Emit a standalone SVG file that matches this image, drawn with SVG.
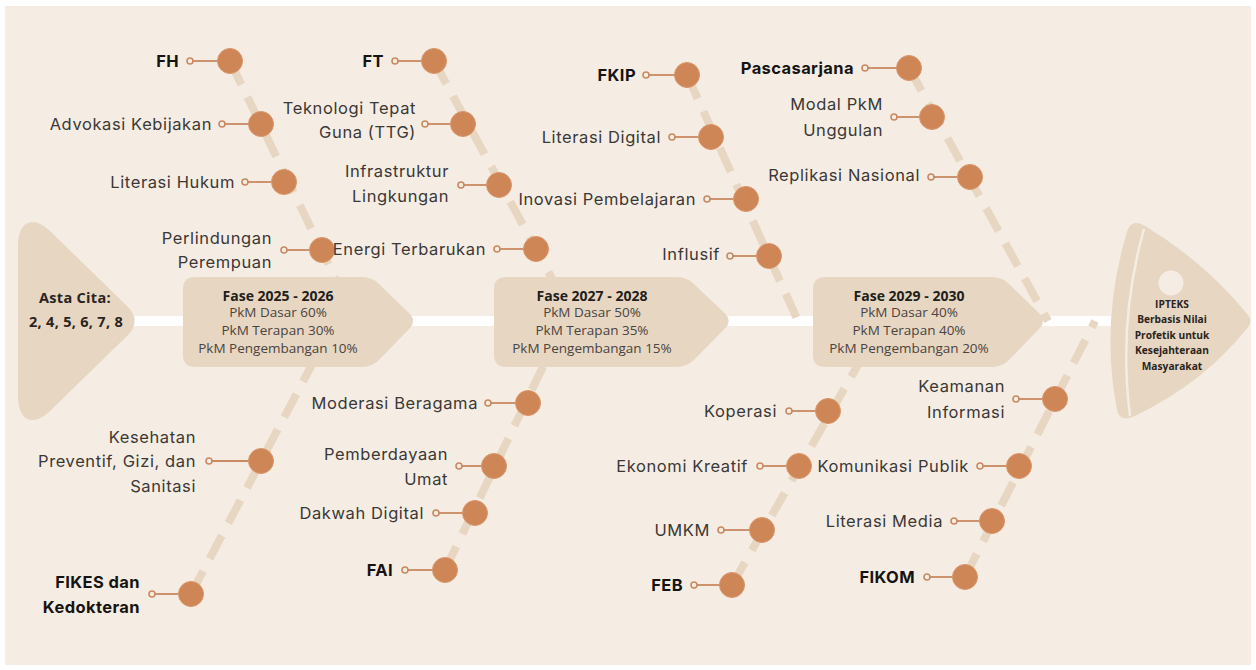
<svg xmlns="http://www.w3.org/2000/svg" width="1256" height="670" viewBox="0 0 1256 670">
<style>
.lbl{font-family:Inter,"Noto Sans",sans-serif;font-size:16.5px;letter-spacing:0.6px;fill:#3b3836;text-anchor:end}
.b{font-weight:700;fill:#161412;letter-spacing:0.4px}
.ph{font-family:"Open Sans","Noto Sans",sans-serif;font-size:13.5px;fill:#4a4440;text-anchor:middle}
.phb{font-weight:700;font-size:14px;fill:#221e1b}
.hd{font-family:"Open Sans","Noto Sans",sans-serif;font-size:10.2px;font-weight:700;fill:#2a2420;text-anchor:middle}
.tl{font-family:"Open Sans","Noto Sans",sans-serif;font-size:14.5px;letter-spacing:0.3px;font-weight:700;fill:#2a2420;text-anchor:middle}
.big{fill:#cf8657;stroke:#d9966a;stroke-width:1}
.sm{fill:#f5ede3;stroke:#c98a62;stroke-width:1.6}
.ln{stroke:#c98a62;stroke-width:1.8}
.bone{stroke:#e7d6c2;stroke-width:8;stroke-dasharray:26 14;fill:none}
.tan{fill:#e7d6c2}
</style>
<defs>
<path id="phase" d="M195 277 L362 277 Q372 277 379 284 L410 314 Q416 321 410 328 L379 360 Q372 367 362 367 L195 367 Q183 367 183 355 L183 289 Q183 277 195 277 Z"/>
</defs>
<rect x="0" y="0" width="1256" height="670" fill="#ffffff"/>
<rect x="5" y="6" width="1246" height="659" fill="#f5ede3"/>

<g id="connectors">
<line x1="130" y1="321" x2="1118" y2="321" stroke="#ffffff" stroke-width="10"/>
<line class="bone" x1="230" y1="61" x2="356" y2="321"/>
<line class="bone" x1="434" y1="61" x2="575" y2="321"/>
<line class="bone" x1="687" y1="75" x2="798" y2="321"/>
<line class="bone" x1="909" y1="68" x2="1048" y2="321"/>
<line class="bone" x1="191" y1="594" x2="335" y2="321"/>
<line class="bone" x1="445" y1="570" x2="565" y2="321"/>
<line class="bone" x1="732" y1="585" x2="883" y2="321"/>
<line class="bone" x1="965" y1="577" x2="1095" y2="321"/>
</g>

<g id="tail">
<path class="tan" d="M18 246 C18 222 32 214 50 231 L127 306 C137 315 137 327 127 336 L50 411 C32 428 18 420 18 396 Z"/>
<text class="tl" x="75" y="303">Asta Cita:</text>
<text class="tl" x="76" y="327">2, 4, 5, 6, 7, 8</text>
</g>

<g id="phase1">
<use href="#phase" class="tan"/>
<text class="ph phb" x="278" y="301">Fase 2025 - 2026</text>
<text class="ph" x="278" y="317">PkM Dasar 60%</text>
<text class="ph" x="278" y="335">PkM Terapan 30%</text>
<text class="ph" x="278" y="353">PkM Pengembangan 10%</text>
</g>
<g id="phase2">
<use href="#phase" class="tan" transform="translate(311 0) scale(1.02 1) translate(-3.6 0)"/>
<text class="ph phb" x="592" y="301">Fase 2027 - 2028</text>
<text class="ph" x="592" y="317">PkM Dasar 50%</text>
<text class="ph" x="592" y="335">PkM Terapan 35%</text>
<text class="ph" x="592" y="353">PkM Pengembangan 15%</text>
</g>
<g id="phase3">
<use href="#phase" class="tan" transform="translate(630 0)"/>
<text class="ph phb" x="909" y="301">Fase 2029 - 2030</text>
<text class="ph" x="909" y="317">PkM Dasar 40%</text>
<text class="ph" x="909" y="335">PkM Terapan 40%</text>
<text class="ph" x="909" y="353">PkM Pengembangan 20%</text>
</g>

<g id="head">
<path class="tan" d="M1127 232 Q1131 218 1145 226 Q1205 262 1248 315 Q1253 321 1248 327 Q1205 382 1135 416 Q1120 423 1117 410 Q1100 321 1127 232 Z"/>
<path d="M1144 229 Q1118 321 1130 416" fill="none" stroke="#f5ede3" stroke-width="2.5"/>
<circle cx="1171" cy="283" r="12.5" fill="#f5ede3"/>
<text class="hd" x="1172" y="307.5">IPTEKS</text>
<text class="hd" x="1172" y="323">Berbasis Nilai</text>
<text class="hd" x="1172" y="338.5">Profetik untuk</text>
<text class="hd" x="1172" y="354">Kesejahteraan</text>
<text class="hd" x="1172" y="369.5">Masyarakat</text>
</g>

<g id="n-fh"><text class="lbl b" x="179" y="66.5">FH</text><line class="ln" x1="193" y1="61" x2="220" y2="61"/><circle class="sm" cx="190" cy="61" r="3"/><circle class="big" cx="230" cy="61" r="12.5"/></g>
<g id="n-advokasi"><text class="lbl" x="212" y="129.5">Advokasi Kebijakan</text><line class="ln" x1="225" y1="124" x2="251" y2="124"/><circle class="sm" cx="222" cy="124" r="3"/><circle class="big" cx="261" cy="124" r="12.5"/></g>
<g id="n-literasi-hukum"><text class="lbl" x="235" y="187.5">Literasi Hukum</text><line class="ln" x1="248" y1="182" x2="274" y2="182"/><circle class="sm" cx="245" cy="182" r="3"/><circle class="big" cx="284" cy="182" r="12.5"/></g>
<g id="n-perlindungan"><text class="lbl" x="272" y="243.5">Perlindungan</text><text class="lbl" x="272" y="267.5">Perempuan</text><line class="ln" x1="287" y1="250" x2="312" y2="250"/><circle class="sm" cx="284" cy="250" r="3"/><circle class="big" cx="322" cy="250" r="12.5"/></g>

<g id="n-ft"><text class="lbl b" x="384" y="66.5">FT</text><line class="ln" x1="398" y1="61" x2="424" y2="61"/><circle class="sm" cx="395" cy="61" r="3"/><circle class="big" cx="434" cy="61" r="12.5"/></g>
<g id="n-ttg"><text class="lbl" x="416" y="113.5">Teknologi Tepat</text><text class="lbl" x="416" y="137.5">Guna (TTG)</text><line class="ln" x1="428" y1="124" x2="453" y2="124"/><circle class="sm" cx="425" cy="124" r="3"/><circle class="big" cx="463" cy="124" r="12.5"/></g>
<g id="n-infrastruktur"><text class="lbl" x="449" y="176.5">Infrastruktur</text><text class="lbl" x="449" y="201.5">Lingkungan</text><line class="ln" x1="464" y1="185" x2="489" y2="185"/><circle class="sm" cx="461" cy="185" r="3"/><circle class="big" cx="499" cy="185" r="12.5"/></g>
<g id="n-energi"><text class="lbl" x="486" y="254.5">Energi Terbarukan</text><line class="ln" x1="500" y1="249" x2="526" y2="249"/><circle class="sm" cx="497" cy="249" r="3"/><circle class="big" cx="536" cy="249" r="12.5"/></g>

<g id="n-fkip"><text class="lbl b" x="636" y="80.5">FKIP</text><line class="ln" x1="649" y1="75" x2="677" y2="75"/><circle class="sm" cx="646" cy="75" r="3"/><circle class="big" cx="687" cy="75" r="12.5"/></g>
<g id="n-literasi-digital"><text class="lbl" x="661" y="142.5">Literasi Digital</text><line class="ln" x1="675" y1="137" x2="701" y2="137"/><circle class="sm" cx="672" cy="137" r="3"/><circle class="big" cx="711" cy="137" r="12.5"/></g>
<g id="n-inovasi"><text class="lbl" x="696" y="204.5">Inovasi Pembelajaran</text><line class="ln" x1="710" y1="199" x2="736" y2="199"/><circle class="sm" cx="707" cy="199" r="3"/><circle class="big" cx="746" cy="199" r="12.5"/></g>
<g id="n-influsif"><text class="lbl" x="720" y="259.5">Influsif</text><line class="ln" x1="733" y1="256" x2="759" y2="256"/><circle class="sm" cx="730" cy="256" r="3"/><circle class="big" cx="769" cy="256" r="12.5"/></g>

<g id="n-pascasarjana"><text class="lbl b" x="854" y="73.5">Pascasarjana</text><line class="ln" x1="868" y1="68" x2="899" y2="68"/><circle class="sm" cx="865" cy="68" r="3"/><circle class="big" cx="909" cy="68" r="12.5"/></g>
<g id="n-modal"><text class="lbl" x="883" y="109.5">Modal PkM</text><text class="lbl" x="883" y="135.5">Unggulan</text><line class="ln" x1="897" y1="117" x2="922" y2="117"/><circle class="sm" cx="894" cy="117" r="3"/><circle class="big" cx="932" cy="117" r="12.5"/></g>
<g id="n-replikasi"><text class="lbl" x="920" y="180.5">Replikasi Nasional</text><line class="ln" x1="934" y1="177" x2="960" y2="177"/><circle class="sm" cx="931" cy="177" r="3"/><circle class="big" cx="970" cy="177" r="12.5"/></g>

<g id="n-kesehatan"><text class="lbl" x="196" y="442.5">Kesehatan</text><text class="lbl" x="196" y="466.5">Preventif, Gizi, dan</text><text class="lbl" x="196" y="491.5">Sanitasi</text><line class="ln" x1="212" y1="461" x2="251" y2="461"/><circle class="sm" cx="209" cy="461" r="3"/><circle class="big" cx="261" cy="461" r="12.5"/></g>
<g id="n-fikes"><text class="lbl b" x="140" y="587.5">FIKES dan</text><text class="lbl b" x="140" y="612.5">Kedokteran</text><line class="ln" x1="155" y1="594" x2="181" y2="594"/><circle class="sm" cx="152" cy="594" r="3"/><circle class="big" cx="191" cy="594" r="12.5"/></g>

<g id="n-moderasi"><text class="lbl" x="478" y="408.5">Moderasi Beragama</text><line class="ln" x1="491" y1="403" x2="518" y2="403"/><circle class="sm" cx="488" cy="403" r="3"/><circle class="big" cx="528" cy="403" r="12.5"/></g>
<g id="n-pemberdayaan"><text class="lbl" x="448" y="459.5">Pemberdayaan</text><text class="lbl" x="448" y="484.5">Umat</text><line class="ln" x1="462" y1="466" x2="484" y2="466"/><circle class="sm" cx="459" cy="466" r="3"/><circle class="big" cx="494" cy="466" r="12.5"/></g>
<g id="n-dakwah"><text class="lbl" x="424" y="518.5">Dakwah Digital</text><line class="ln" x1="439" y1="513" x2="465" y2="513"/><circle class="sm" cx="436" cy="513" r="3"/><circle class="big" cx="475" cy="513" r="12.5"/></g>
<g id="n-fai"><text class="lbl b" x="393" y="575.5">FAI</text><line class="ln" x1="408" y1="570" x2="435" y2="570"/><circle class="sm" cx="405" cy="570" r="3"/><circle class="big" cx="445" cy="570" r="12.5"/></g>

<g id="n-koperasi"><text class="lbl" x="777" y="416.5">Koperasi</text><line class="ln" x1="792" y1="411" x2="818" y2="411"/><circle class="sm" cx="789" cy="411" r="3"/><circle class="big" cx="828" cy="411" r="12.5"/></g>
<g id="n-ekonomi"><text class="lbl" x="748" y="471.5">Ekonomi Kreatif</text><line class="ln" x1="763" y1="466" x2="789" y2="466"/><circle class="sm" cx="760" cy="466" r="3"/><circle class="big" cx="799" cy="466" r="12.5"/></g>
<g id="n-umkm"><text class="lbl" x="710" y="535.5">UMKM</text><line class="ln" x1="724" y1="530" x2="752" y2="530"/><circle class="sm" cx="721" cy="530" r="3"/><circle class="big" cx="762" cy="530" r="12.5"/></g>
<g id="n-feb"><text class="lbl b" x="683" y="590.5">FEB</text><line class="ln" x1="697" y1="585" x2="722" y2="585"/><circle class="sm" cx="694" cy="585" r="3"/><circle class="big" cx="732" cy="585" r="12.5"/></g>

<g id="n-keamanan"><text class="lbl" x="1005" y="391.5">Keamanan</text><text class="lbl" x="1005" y="417.5">Informasi</text><line class="ln" x1="1019" y1="399" x2="1045" y2="399"/><circle class="sm" cx="1016" cy="399" r="3"/><circle class="big" cx="1055" cy="399" r="12.5"/></g>
<g id="n-komunikasi"><text class="lbl" x="969" y="471.5">Komunikasi Publik</text><line class="ln" x1="983" y1="466" x2="1009" y2="466"/><circle class="sm" cx="980" cy="466" r="3"/><circle class="big" cx="1019" cy="466" r="12.5"/></g>
<g id="n-literasi-media"><text class="lbl" x="943" y="526.5">Literasi Media</text><line class="ln" x1="957" y1="521" x2="982" y2="521"/><circle class="sm" cx="954" cy="521" r="3"/><circle class="big" cx="992" cy="521" r="12.5"/></g>
<g id="n-fikom"><text class="lbl b" x="915" y="582.5">FIKOM</text><line class="ln" x1="930" y1="577" x2="955" y2="577"/><circle class="sm" cx="927" cy="577" r="3"/><circle class="big" cx="965" cy="577" r="12.5"/></g>
</svg>
